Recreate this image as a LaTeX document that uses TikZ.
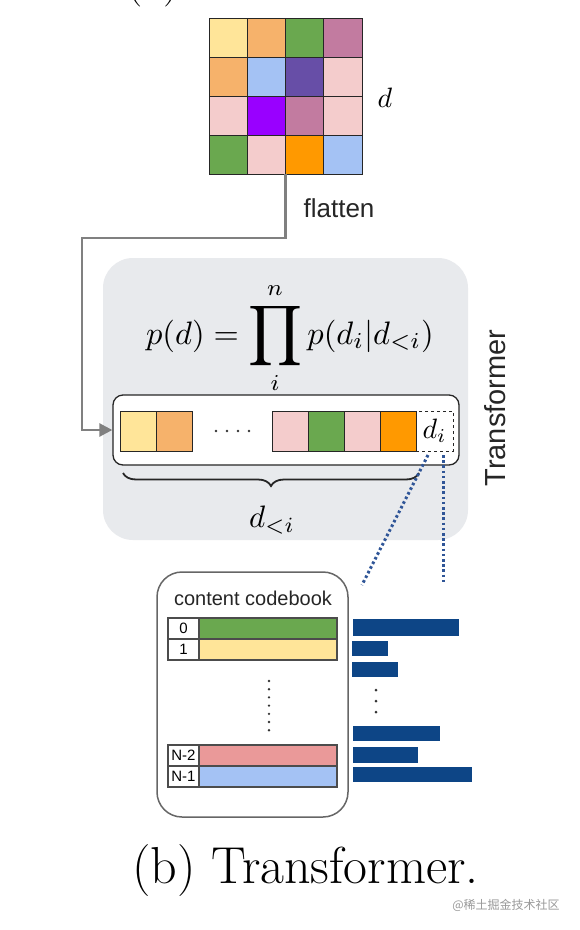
\documentclass[tikz,border=0pt]{standalone}
\usepackage{graphicx}
\usepackage{fontspec}
\newfontfamily\arialf{Liberation Sans}
\newfontfamily\cjkf{Noto Sans CJK SC}
\usetikzlibrary{arrows.meta,decorations.pathreplacing}
\definecolor{cyel}{HTML}{FFE599}
\definecolor{corg}{HTML}{F6B26B}
\definecolor{cgrn}{HTML}{6AA84F}
\definecolor{cmau}{HTML}{C27BA0}
\definecolor{cblu}{HTML}{A4C2F4}
\definecolor{cpur}{HTML}{674EA7}
\definecolor{cpnk}{HTML}{F4CCCC}
\definecolor{cvio}{HTML}{9900FF}
\definecolor{cora}{HTML}{FF9900}
\definecolor{csal}{HTML}{EA9999}
\definecolor{tfgray}{HTML}{E8EAED}
\definecolor{conngray}{HTML}{808080}
\definecolor{dotblue}{HTML}{2F5597}
\definecolor{barblue}{HTML}{0D4586}
\newcommand{\mbig}[2]{\scalebox{#1}{#2}}
\begin{document}
\begin{tikzpicture}[x=1pt,y=-1pt,
  cell/.style={draw=black!85,line width=1pt,minimum width=38.25pt,minimum height=39pt,inner sep=0pt,outer sep=0pt},
  scell/.style={draw=black!85,line width=1pt,minimum width=36pt,minimum height=40pt,inner sep=0pt,outer sep=0pt},
  conn/.style={draw=conngray,line width=2.6pt},
  sanslbl/.style={font=\arialf\fontsize{#1}{#1}\selectfont,inner sep=0pt,text=black!85},
  idxbox/.style={draw=black!70,line width=1.1pt,fill=white,minimum width=31pt,minimum height=21pt,inner sep=0pt,outer sep=0pt,font=\arialf\fontsize{15}{15}\selectfont},
  cbbar/.style={draw=black!70,line width=1.1pt,minimum width=138pt,minimum height=21pt,inner sep=0pt,outer sep=0pt},
  pbar/.style={fill=barblue},
  bluedot/.style={draw=dotblue,line width=3pt,dash pattern=on 2.6pt off 2.6pt},
  mathlbl/.style={inner sep=0pt}
]
\fill[white] (0,0) rectangle (580,930);
\useasboundingbox (0,0) rectangle (580,930);

% clipped caption of the part above
\begin{scope}
\clip (0,0) rectangle (580,930);
\node[anchor=base west,inner sep=0pt,font=\fontsize{46}{50}\selectfont] (capa) at (126,-4.5) {(a)};
\end{scope}

% grid d
\foreach \r/\cols in {1/{cyel,corg,cgrn,cmau},2/{corg,cblu,cpur,cpnk},3/{cpnk,cvio,cmau,cpnk},4/{cgrn,cpnk,cora,cblu}}{
  \foreach \c [count=\k] in \cols {
    \node[cell,fill=\c] (g-\r-\k) at ({209+38.25*(\k-0.5)},{18+39*(\r-0.5)}) {};
  }
}
\node[mathlbl] (dlab) at (385,98) {\mbig{2.8}{$d$}};

% flatten connector
\node[sanslbl=26] (flat) at (339,208) {flatten};
\coordinate (bend) at (82,238);

% Transformer box
\node[fill=tfgray,rounded corners=30pt,minimum width=365pt,minimum height=282pt,inner sep=0pt] (tf) at (285.5,399) {};
\node[sanslbl=29,rotate=90] (tflab) at (495,408) {Transformer};

% formula
\node[mathlbl] (formula) at (290,338)
  {\mbig{3.25}{$\displaystyle p(d)=\mathop{\vcenter{\hbox{\scalebox{1.3}{$\displaystyle\prod$}}}}\limits_{i}^{n} p(d_i|d_{<i})$}};

% sequence box
\node[draw=black!85,line width=1.3pt,fill=white,rounded corners=10pt,minimum width=346pt,minimum height=70pt,inner sep=0pt] (seq) at (286,430) {};
\draw[conn,-{Triangle[length=13pt,width=13pt]}] (g-4-3.south west) |- (bend) |- (seq.west);

\node[scell,fill=cyel] (s1) at (138,431) {};
\node[scell,fill=corg] (s2) at (174,431) {};
\foreach \i in {0,1,2,3}{\fill[black!80] ({216+11*\i},431) circle (1.4pt);}
\node[scell,fill=cpnk] (s3) at (290,431) {};
\node[scell,fill=cgrn] (s4) at (326,431) {};
\node[scell,fill=cpnk] (s5) at (362,431) {};
\node[scell,fill=cora] (s6) at (398,431) {};
\node[draw=black!85,line width=1pt,dashed,minimum width=37pt,minimum height=40pt,inner sep=0pt] (sd) at (434.5,431) {\mbig{2.8}{$d_i$}};

% brace
\coordinate (br1) at (123,473);
\coordinate (br2) at (419,473);
\draw[line width=1.8pt,black!85,decorate,decoration={brace,mirror,amplitude=13pt}] (br1) -- (br2);
\node[mathlbl] (dlt) at (272,520) {\mbig{3.1}{$d_{<i}$}};

% blue dotted lines
\coordinate (dl1) at (428,455);
\coordinate (dl2) at (362,585);
\coordinate (dr1) at (443,455);
\coordinate (dr2) at (443,585);
\draw[bluedot] (dl1) -- (dl2);
\draw[bluedot] (dr1) -- (dr2);

% codebook
\node[draw=black!60,line width=1.5pt,fill=white,rounded corners=25pt,minimum width=191pt,minimum height=245pt,inner sep=0pt] (cb) at (252.5,694.5) {};
\node[sanslbl=20] (cbt) at (253,598) {content codebook};
\node[idxbox] (i0) at (183.5,628.5) {0};
\node[cbbar,fill=cgrn] (b0) at (268,628.5) {};
\node[idxbox] (i1) at (183.5,649.5) {1};
\node[cbbar,fill=cyel] (b1) at (268,649.5) {};
\foreach \i in {0,...,6}{\fill[black!80] (269,{681+8.2*\i}) circle (1.3pt);}
\node[idxbox] (i2) at (183.5,755.5) {N-2};
\node[cbbar,fill=csal] (b2) at (268,755.5) {};
\node[idxbox] (i3) at (183.5,776.5) {N-1};
\node[cbbar,fill=cblu] (b3) at (268,776.5) {};

% probability bars
\fill[pbar] (353,619) rectangle (459,636);
\fill[pbar] (352,641) rectangle (388,656);
\fill[pbar] (352,662) rectangle (398,677);
\foreach \yy in {690,701,712}{\fill[black!80] (376,\yy) circle (1.5pt);}
\fill[pbar] (353,726) rectangle (440,741);
\fill[pbar] (353,747) rectangle (418,763);
\fill[pbar] (353,767) rectangle (472,782);

% caption
\node[anchor=base,inner sep=0pt,font=\fontsize{52}{56}\selectfont] (cap) at (305.5,883) {(b) Transformer.};
\node[inner sep=0pt,text=black!40,font=\cjkf\fontsize{12}{12}\selectfont] (wm) at (506,905) {@稀土掘金技术社区};
\end{tikzpicture}
\end{document}
